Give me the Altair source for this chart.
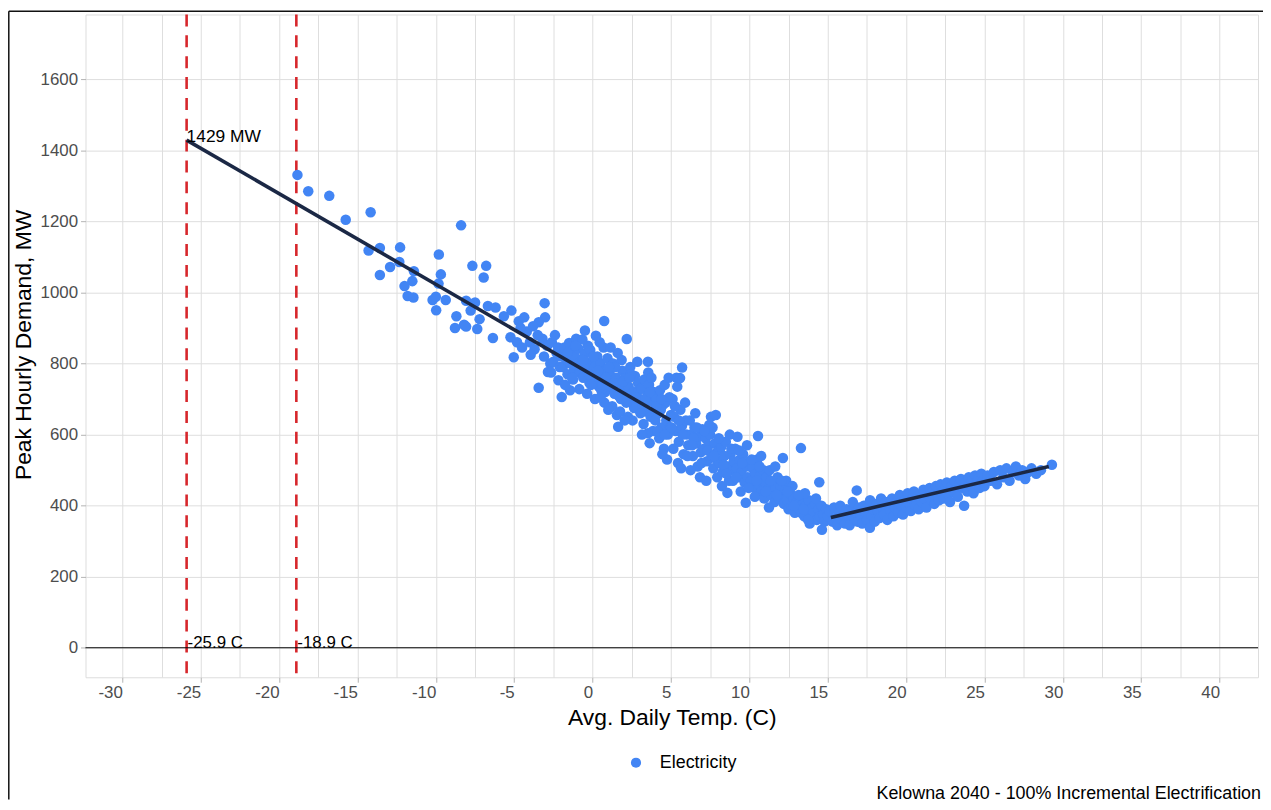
import altair as alt
import pandas as pd

# ---------------- data ----------------
cold_temp = [-18.83, -18.14, -16.8, -15.75, -14.16, -14.29, -13.57, -12.28, -13.57, -12.92,
             -12.33, -12.0, -11.5, -11.8, -11.4, -11.43, -9.81, -9.68, -9.83, -8.39,
             -7.67, -6.79, -6.95, -10.21, -10.0, -9.37, -9.98, -8.69, -8.07, -7.5,
             -8.2, -8.78, -8.07, -7.36, -7.21, -7.78, -6.68, -6.19, -6.36, -5.18,
             -5.66, -4.71, -4.36, -5.03, -5.24, -4.82]
cold_demand = [1331, 1285, 1272, 1205, 1226, 1118, 1125, 1127, 1049, 1072,
               1086, 1018, 1032, 990, 1060, 986, 1107, 1051, 1025, 1189,
               1075, 1075, 1042, 979, 988, 979, 950, 933, 977, 972,
               909, 900, 904, 897, 925, 949, 962, 958, 872, 949,
               933, 919, 930, 818, 874, 860]

cool_temp = [-3.06, -3.03, -3.44, -3.44, -2.85, -1.97, -1.44, -2.18, -4.2, -3.8,
             -3.5, -4.0, -3.2, -4.5, -3.7, -2.9, -2.6, -2.4, -2.2, -2.7,
             -3.1, -2.5, -2.3, -2.1, -2.65, -4.6, -3.95]
cool_demand = [970, 930, 916, 732, 776, 706, 725, 753, 890, 905,
               880, 860, 870, 845, 840, 850, 860, 880, 845, 800,
               820, 805, 830, 790, 775, 900, 825]

mild_temp = [-2.0, -1.9, -1.8, -1.7, -1.6, -1.5, -1.4, -1.3, -1.2, -1.1, -1.0, -1.75, -1.25, -1.05,
             -0.9, -0.8, -0.7, -0.6, -0.5, -0.4, -0.3, -0.2, -0.1, 0.0, -0.85, -0.35, -0.15, -0.65,
             0.1, 0.2, 0.3, 0.4, 0.5, 0.6, 0.7, 0.8, 0.9, 1.0, 0.15, 0.45, 0.75, 0.95, 0.55,
             1.1, 1.2, 1.3, 1.4, 1.5, 1.6, 1.7, 1.8, 1.9, 2.0, 1.25, 1.55, 1.85, 1.15, 1.45, 1.75,
             2.1, 2.2, 2.3, 2.4, 2.5, 2.6, 2.7, 2.8, 2.9, 3.0, 2.25, 2.55, 2.85, 2.45, 2.65, 2.95,
             3.1, 3.2, 3.3, 3.4, 3.5, 3.6, 3.7, 3.8, 3.9, 4.0, 3.25, 3.55, 3.85, 3.45, 3.75, 3.95,
             4.1, 4.2, 4.3, 4.4, 4.5, 4.6, 4.7, 4.8, 4.9, 5.0, 4.25, 4.55, 4.85, 4.65, 4.35, 4.95, 4.75, 4.45,
             0.74, -0.49, 0.21, 2.18, 3.53, 1.63, 3.53, 3.64,
             -1.6, -1.3, -0.95, -0.55, -0.25, 0.05, 0.35, 0.65, 0.85, 1.05,
             1.35, 1.65, 1.95, 2.15, 2.35, 2.75, 3.05, 3.35, 3.65, 4.05,
             4.15, 4.4, 4.6, 2.05, 3.15, 1.0, 0.5, -0.1, -0.6, -1.1]
mild_demand = [820, 790, 845, 812, 770, 858, 800, 835, 780, 818, 795, 740, 755, 870,
               842, 775, 810, 760, 828, 790, 850, 745, 805, 772, 728, 715, 838, 868,
               790, 755, 820, 735, 800, 770, 845, 720, 785, 750, 700, 860, 690, 815, 725,
               770, 735, 800, 715, 760, 830, 745, 700, 780, 725, 680, 655, 810, 845, 790, 665,
               760, 705, 735, 790, 690, 720, 765, 680, 745, 700, 650, 640, 805, 770, 675, 725,
               730, 685, 755, 665, 710, 740, 650, 695, 720, 640, 630, 775, 610, 690, 760, 670,
               700, 660, 725, 620, 685, 740, 640, 600, 705, 655, 590, 560, 760, 690, 670, 620, 530, 545,
               920, 893, 878, 869, 805, 622, 604, 576,
               830, 760, 800, 790, 770, 820, 780, 740, 760, 790,
               745, 710, 750, 690, 760, 705, 660, 700, 720, 680,
               610, 700, 600, 640, 600, 670, 705, 740, 810, 850]

shoulder_temp = [5.1, 5.2, 5.3, 5.4, 5.5, 5.6, 5.7, 5.8, 5.9, 6.0, 5.15, 5.45, 5.35, 5.65, 5.95, 5.25,
                 6.1, 6.2, 6.3, 6.4, 6.5, 6.6, 6.7, 6.8, 6.9, 7.0, 6.25, 6.55, 6.85, 6.45,
                 7.1, 7.2, 7.3, 7.4, 7.5, 7.6, 7.7, 7.8, 7.9, 8.0, 7.25, 7.65, 7.95, 7.44, 7.55, 7.86,
                 8.1, 8.2, 8.3, 8.4, 8.5, 8.6, 8.7, 8.8, 8.9, 9.0, 8.25, 8.6, 8.75, 8.95,
                 9.1, 9.2, 9.24, 9.3, 9.4, 9.5, 9.6, 9.7, 9.77, 9.8, 9.9, 10.0, 9.45, 9.85,
                 10.1, 10.2, 10.3, 10.4, 10.55, 10.5, 10.6, 10.7, 10.8, 10.9, 11.0, 10.35, 10.75, 10.95,
                 11.1, 11.2, 11.3, 11.4, 11.5, 11.6, 11.7, 11.8, 11.9, 12.0, 11.25, 11.65, 12.14,
                 12.1, 12.2, 12.3, 12.4, 12.5, 12.6, 12.7, 12.8, 12.9, 13.0, 12.35, 12.75, 13.29,
                 13.1, 13.2, 13.3, 13.4, 13.5, 13.6, 13.7, 13.8, 13.9, 14.0, 13.55, 13.85,
                 14.1, 14.2, 14.3, 14.46, 14.4, 14.5, 14.63, 14.6, 14.7, 14.8, 14.9, 15.0, 14.25,
                 5.71, 5.58,
                 5.05, 5.5, 5.75, 6.05, 6.35, 6.65, 6.95, 7.15, 7.35, 7.75,
                 8.05, 8.35, 8.55, 8.85, 9.15, 9.35, 9.55, 9.95, 10.15, 10.45,
                 10.65, 11.05, 11.35, 11.75, 12.05, 12.45, 12.85, 13.15, 13.45, 13.75]
shoulder_demand = [700, 650, 610, 735, 580, 670, 625, 545, 690, 600, 560, 520, 760, 505, 640, 680,
                   570, 640, 600, 540, 620, 575, 510, 595, 550, 615, 500, 660, 480, 590,
                   560, 590, 525, 570, 600, 540, 505, 575, 530, 555, 470, 620, 480, 627, 650, 655,
                   520, 565, 495, 540, 580, 510, 470, 545, 500, 525, 455, 436, 600, 470,
                   560, 505, 594, 480, 530, 495, 545, 465, 408, 510, 480, 525, 440, 570,
                   470, 505, 450, 490, 596, 530, 460, 485, 440, 500, 465, 425, 540, 420,
                   480, 445, 500, 430, 465, 410, 450, 480, 420, 455, 395, 510, 534,
                   430, 405, 445, 415, 390, 435, 400, 420, 380, 410, 470, 455, 562,
                   395, 420, 380, 405, 370, 400, 385, 415, 365, 395, 435, 350,
                   380, 405, 360, 466, 390, 370, 332, 400, 375, 355, 390, 370, 420,
                   789, 759,
                   620, 640, 600, 540, 570, 620, 520, 610, 555, 540,
                   590, 515, 490, 560, 480, 555, 520, 450, 530, 470,
                   510, 440, 470, 430, 470, 440, 400, 430, 390, 360]

warm_temp = [15.1, 15.3, 15.4, 15.5, 15.6, 15.7, 15.8, 15.9, 16.0, 16.1, 16.2, 16.3, 16.4, 16.5, 16.6, 16.7, 16.85, 16.8, 16.9, 17.0,
             17.1, 17.2, 17.3, 17.4, 17.5, 17.69, 17.6, 17.7, 17.8, 17.9, 18.0, 18.1, 18.2, 18.3, 18.4, 18.5, 18.6, 18.7, 18.8, 18.9, 19.0,
             19.1, 19.2, 19.3, 19.4, 19.5, 19.6, 19.7, 19.8, 19.9, 20.0, 20.1, 20.2, 20.3, 20.4, 20.5, 20.6, 20.7, 20.8, 20.9, 21.0,
             21.1, 21.2, 21.3, 21.4, 21.5, 21.6, 21.7, 21.8, 21.9, 22.0, 22.1, 22.2, 22.3, 22.4, 22.5, 22.6, 22.7, 22.8, 22.9, 23.0,
             23.1, 23.2, 23.3, 23.4, 23.5, 23.6, 23.7, 23.8, 23.9, 24.0, 24.1, 24.2, 24.3, 24.4, 24.5, 24.6, 24.7, 24.8, 24.9, 25.0,
             25.2, 25.4, 25.6, 25.8, 26.0, 26.2, 26.4, 26.6, 26.8, 27.0, 27.2, 27.4, 27.6, 27.8, 28.0, 28.3, 28.6, 29.3]
warm_demand = [385, 355, 395, 365, 345, 380, 400, 360, 375, 350, 390, 370, 345, 385, 410, 365, 443, 380, 355, 395,
               375, 350, 400, 380, 360, 338, 395, 415, 370, 390, 355, 405, 385, 365, 420, 395, 375, 410, 360, 400, 385,
               420, 370, 395, 410, 380, 430, 400, 375, 415, 395, 435, 405, 385, 420, 440, 400, 425, 390, 430, 410,
               445, 420, 395, 435, 450, 415, 440, 405, 455, 430, 415, 460, 440, 420, 450, 465, 430, 410, 455, 440,
               470, 445, 425, 460, 475, 450, 400, 465, 440, 480, 455, 470, 435, 485, 460, 475, 450, 490, 470, 455,
               485, 470, 495, 460, 500, 480, 505, 470, 495, 510, 485, 500, 475, 495, 505, 490, 500, 515]

series_name = "Electricity"

# fitted heating / cooling lines (end points)
heat_fit_temp = [-25.9, 4.95]
heat_fit_demand = [1429, 641]
cool_fit_temp = [15.2, 29.1]
cool_fit_demand = [367, 510]

design_temps = [-25.9, -18.9]
design_labels = ["-25.9 C", "-18.9 C"]
peak_temp = [-25.9]
peak_demand = [1429]
peak_text = ["1429 MW"]

x_tick_values = [-30, -27.5, -25, -22.5, -20, -17.5, -15, -12.5, -10, -7.5, -5, -2.5, 0, 2.5, 5, 7.5,
                 10, 12.5, 15, 17.5, 20, 22.5, 25, 27.5, 30, 32.5, 35, 37.5, 40]
y_tick_values = [0, 100, 200, 300, 400, 500, 600, 700, 800, 900, 1000, 1100, 1200, 1300, 1400,
                 1500, 1600, 1700]

caption = ["Kelowna 2040 - 100% Incremental Electrification"]

# ---------------- tables ----------------
all_temp = cold_temp + cool_temp + mild_temp + shoulder_temp + warm_temp
all_demand = cold_demand + cool_demand + mild_demand + shoulder_demand + warm_demand
points_df = pd.DataFrame({"temp": all_temp, "demand": all_demand,
                          "series": [series_name] * len(all_temp)})
fit_df = pd.DataFrame({
    "temp": heat_fit_temp + cool_fit_temp,
    "demand": heat_fit_demand + cool_fit_demand,
    "seg": ["heat", "heat", "cool", "cool"],
})
design_df = pd.DataFrame({"temp": design_temps, "label": design_labels})
peak_df = pd.DataFrame({"temp": peak_temp, "demand": peak_demand, "label": peak_text})
zero_df = pd.DataFrame({"demand": [0]})
frame_df = pd.DataFrame({"k": ["frame"]})
caption_df = pd.DataFrame({"label": caption})

FONT = "Liberation Sans"

x_scale = alt.Scale(domain=[-32.35, 42.45], nice=False, zero=False)
y_scale = alt.Scale(domain=[-83, 1782.5], nice=False, zero=False)

x_axis = alt.Axis(
    values=x_tick_values,
    labelExpr="datum.value % 5 === 0 ? toString(datum.value) : ''",
    tickOpacity={"condition": {"test": "datum.value % 5 === 0", "value": 1}, "value": 0},
    labelOverlap=False, labelFlush=False, labelBound=False, labelAlign="right",
    domain=False, grid=True, gridColor="#DEDEDE", gridWidth=1,
    tickColor="#B3B3B3", tickSize=5, tickWidth=1,
    labelColor="#4D4D4D", labelFontSize=17, labelFont=FONT, labelPadding=2,
    title="Avg. Daily Temp. (C)", titleFont=FONT, titleFontSize=23, titleFontWeight="normal",
    titleColor="black", titleX=590, titleY=48, titleBaseline="alphabetic", titleAlign="center",
)
y_axis = alt.Axis(
    values=y_tick_values,
    labelExpr="datum.value % 200 === 0 ? toString(datum.value) : ''",
    tickOpacity={"condition": {"test": "datum.value % 200 === 0", "value": 1}, "value": 0},
    labelOverlap=False, labelFlush=False, labelBound=False,
    domain=False, grid=True, gridColor="#DEDEDE", gridWidth=1,
    tickColor="#B3B3B3", tickSize=5, tickWidth=1,
    labelColor="#4D4D4D", labelFontSize=17, labelFont=FONT, labelPadding=3,
    title="Peak Hourly Demand, MW", titleFont=FONT, titleFontSize=23, titleFontWeight="normal",
    titleColor="black", titleAngle=270, titleX=-55, titleY=332, titleBaseline="alphabetic",
    titleAlign="center",
)

points = alt.Chart(points_df).mark_circle(size=112, opacity=1).encode(
    x=alt.X("temp:Q", scale=x_scale, axis=x_axis),
    y=alt.Y("demand:Q", scale=y_scale, axis=y_axis),
    color=alt.Color("series:N",
                    scale=alt.Scale(domain=[series_name], range=["#4285F4"]),
                    legend=alt.Legend(orient="none", legendX=545, legendY=744, title=None,
                                      padding=0, symbolType="circle", symbolSize=105,
                                      labelFontSize=18, labelFont=FONT, labelColor="black",
                                      labelOffset=15)),
)

design_lines = alt.Chart(design_df).mark_rule(
    color="#D7262B", strokeWidth=2.6, strokeDash=[12, 9]
).encode(x="temp:Q")

zero_line = alt.Chart(zero_df).mark_rule(color="black", strokeWidth=1).encode(y="demand:Q")

fit_lines = alt.Chart(fit_df).mark_line(color="#1B2845", strokeWidth=3.6).encode(
    x="temp:Q", y="demand:Q", detail="seg:N"
)

design_text = alt.Chart(design_df).mark_text(
    align="left", baseline="alphabetic", dx=1, fontSize=17, font=FONT, color="black"
).encode(x="temp:Q", y=alt.datum(0), text="label:N")

peak_label = alt.Chart(peak_df).mark_text(
    align="left", baseline="alphabetic", dx=0, dy=2, fontSize=17.5, font=FONT, color="black"
).encode(x="temp:Q", y="demand:Q", text="label:N")

# caption in the bottom-right corner of the figure
caption_text = alt.Chart(caption_df).mark_text(
    align="right", baseline="alphabetic", fontSize=18, font=FONT, color="black"
).encode(x=alt.value(1183), y=alt.value(790), text="label:N")

# thin dark frame at the left and top edges of the picture (screenshot border)
frame_left = alt.Chart(frame_df).mark_rule(color="#111111", strokeWidth=1.5).encode(
    x=alt.value(-77.2), y=alt.value(-3.2), y2=alt.value(790)
)
frame_top = alt.Chart(frame_df).mark_rule(color="#111111", strokeWidth=1.5).encode(
    x=alt.value(-77.2), x2=alt.value(1185), y=alt.value(-3.2)
)

chart = alt.layer(
    design_lines, zero_line, points, fit_lines, design_text, peak_label,
    caption_text, frame_left, frame_top
).properties(
    width=1180, height=667,
    autosize=alt.AutoSizeParams(type="none"),
    padding={"left": 78, "top": 4, "right": 5, "bottom": 123},
).configure_view(
    stroke="#B3B3B3", strokeWidth=1
).configure(background="white")

chart.save("out.html", embed_options={"renderer": "svg", "actions": False})
